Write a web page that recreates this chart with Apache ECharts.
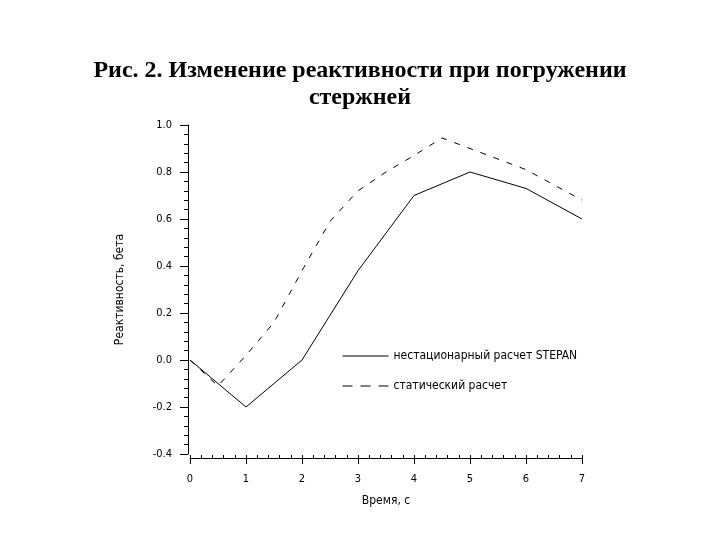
<!DOCTYPE html>
<html><head><meta charset="utf-8">
<script src="https://cdn.jsdelivr.net/npm/echarts@6/dist/echarts.min.js"></script>
<style>html,body{margin:0;padding:0;background:#fff}#c{width:720px;height:540px}</style>
</head><body><div id="c"></div>
<script>
var titleLines = ["Рис. 2. Изменение реактивности при погружении", "стержней"];
var xName = "Время, с";
var yName = "Реактивность, бета";
var seriesNames = ["нестационарный расчет STEPAN", "статический расчет"];
var solidData = [[0,0],[1,-0.2],[2,0],[3,0.38],[4,0.70],[5,0.80],[6,0.73],[7,0.60]];
var dashedData = [[0,0],[0.5,-0.11],[1,0.02],[1.5,0.16],[2,0.38],[2.5,0.59],[3,0.72],[3.5,0.80],[4,0.87],[4.5,0.945],[5,0.90],[6,0.81],[7,0.68]];

var font = "'Liberation Sans Narrow','DejaVu Sans Condensed','Liberation Sans',sans-serif";
var titleStyle = {fontFamily: "'Liberation Serif','Times New Roman',serif", fontWeight: 'bold', fontSize: 24, color: '#000'};
var chart = echarts.init(document.getElementById('c'));
chart.setOption({
  backgroundColor: '#fff',
  animation: false,
  title: [
    {text: titleLines[0], left: 'center', top: 54, textStyle: titleStyle},
    {text: titleLines[1], left: 'center', top: 81, textStyle: titleStyle}
  ],
  legend: {
    orient: 'vertical', left: 337, top: 345, itemWidth: 46, itemHeight: 12, itemGap: 18,
    itemStyle: {opacity: 0},
    lineStyle: {width: 1, color: '#000', opacity: 1},
    textStyle: {fontFamily: font, fontSize: 12, color: '#000'},
    data: [
      {name: seriesNames[0]},
      {name: seriesNames[1], lineStyle: {type: [10, 8], width: 1, color: '#000', opacity: 1}}
    ]
  },
  grid: {left: 190, right: 138, top: 125, bottom: 86, containLabel: false},
  xAxis: [{
    type: 'value', min: 0, max: 7, interval: 1, offset: 4,
    name: xName, nameLocation: 'middle', nameGap: 37,
    nameTextStyle: {fontFamily: font, fontSize: 12, color: '#000'},
    axisLine: {onZero: false, lineStyle: {color: '#000', width: 1}},
    axisTick: {length: 6, lineStyle: {color: '#000'}},
    axisLabel: {color: '#000', fontFamily: font, fontSize: 11, margin: 16},
    splitLine: {show: false}
  }, {
    type: 'value', min: 0, max: 7, interval: 0.2, offset: 4, position: 'bottom',
    axisLine: {show: false, onZero: false},
    axisTick: {inside: true, length: 3, lineStyle: {color: '#000'}},
    axisLabel: {show: false},
    splitLine: {show: false}
  }],
  yAxis: {
    type: 'value', min: -0.4, max: 1.0, interval: 0.2, offset: 2,
    name: yName, nameLocation: 'middle', nameGap: 62, nameRotate: 90,
    nameTextStyle: {fontFamily: font, fontSize: 12, color: '#000'},
    axisLine: {show: true, onZero: false, lineStyle: {color: '#000', width: 1}},
    axisTick: {length: 8, lineStyle: {color: '#000'}},
    minorTick: {show: true, splitNumber: 5, length: 4, lineStyle: {color: '#000'}},
    axisLabel: {color: '#000', fontFamily: font, fontSize: 11, margin: 16, formatter: function(v){return v.toFixed(1);}},
    splitLine: {show: false}
  },
  series: [{
    name: seriesNames[0], type: 'line', data: solidData, symbol: 'none', xAxisIndex: 0,
    lineStyle: {color: '#000', width: 1, type: 'solid'}, itemStyle: {color: '#000'}
  }, {
    name: seriesNames[1], type: 'line', data: dashedData, symbol: 'none', xAxisIndex: 0,
    lineStyle: {color: '#000', width: 1, type: [6, 8]}, itemStyle: {color: '#000'}
  }]
});
</script></body></html>
